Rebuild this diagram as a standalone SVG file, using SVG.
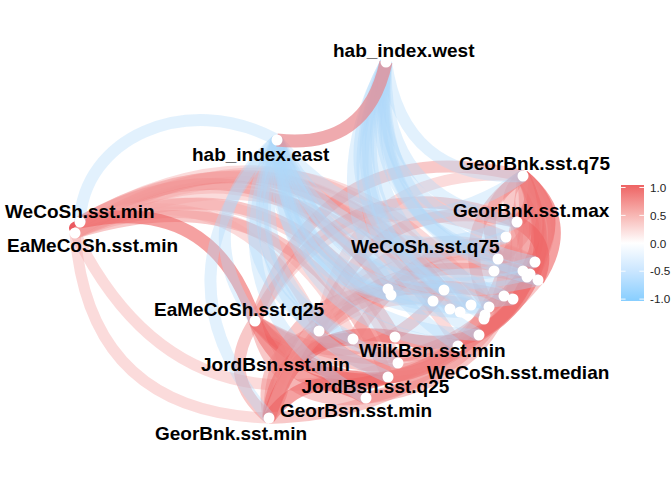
<svg xmlns="http://www.w3.org/2000/svg" width="672" height="480" viewBox="0 0 672 480">
<defs>
<style>
.e{fill:none;stroke-linecap:butt}
.b{stroke:#b0d8fa;stroke-opacity:.36;stroke-width:12}
.r1{stroke:#ee6363;stroke-opacity:.6;stroke-width:13}
.r2{stroke:#f08585;stroke-opacity:.45;stroke-width:12}
.r3{stroke:#f6a5a5;stroke-opacity:.4;stroke-width:11}
.hab{stroke:#e8868c;stroke-opacity:.7;stroke-width:13}
.fg{stroke:#e8474f;stroke-opacity:.9;stroke-width:5}
.n{fill:#fff}
.t{font-family:"Liberation Sans",Arial,sans-serif;font-weight:bold;font-size:19px;fill:#000}
.lt{font-family:"Liberation Sans",Arial,sans-serif;font-size:11.7px;fill:#222}
</style>
<linearGradient id="cbar" x1="0" y1="0" x2="0" y2="1">
<stop offset="0" stop-color="#ee6363"/>
<stop offset="0.25" stop-color="#f7b3b0"/>
<stop offset="0.5" stop-color="#ffffff"/>
<stop offset="0.75" stop-color="#c8e5ff"/>
<stop offset="1" stop-color="#87ceff"/>
</linearGradient>
</defs>
<rect width="672" height="480" fill="#fff"/>
<g id="connectors">
<path class="e r3" d="M75,233 Q257,120 388,289"/>
<path class="e r2" d="M75,233 Q285,96 444,290"/>
<path class="e r3" d="M75,233 Q297,102 450,309"/>
<path class="e r2" d="M75,233 Q282,141 395,337"/>
<path class="e r3" d="M75,233 Q317,117 458,346"/>
<path class="e r3" d="M75,233 Q262,161 353,339"/>
<path class="e r2" d="M75,233 Q296,164 388,377"/>
<path class="e r3" d="M75,233 Q315,84 489,307"/>
<path class="e r2" d="M80,222 Q292,103 433,301"/>
<path class="e r3" d="M80,222 Q313,88 471,305"/>
<path class="e r2" d="M80,222 Q268,119 391,295"/>
<path class="e r3" d="M80,222 Q302,149 398,363"/>
<path class="e r3" d="M80,222 Q249,169 319,331"/>
<path class="e r3" d="M80,222 Q311,96 460,312"/>
<path class="e r1" d="M80,222 Q212,193 255,321"/>
<path class="e r3" d="M269,418 Q89,413 75,233"/>
<path class="e r3" d="M398,363 Q178,443 75,233"/>
<path class="e fg" d="M75,233 Q66,226 80,222"/>
<path class="e r2" d="M269,418 Q218,376 255,321"/>
<path class="e r2" d="M255,321 Q306,363 269,418"/>
<path class="e r1" d="M458,346 Q345,425 255,321"/>
<path class="e r2" d="M444,290 Q363,391 255,321"/>
<path class="e r1" d="M479,335 Q361,429 255,321"/>
<path class="e r2" d="M538,280 Q415,428 255,321"/>
<path class="e r2" d="M535,262 Q422,418 255,321"/>
<path class="e r1" d="M388,377 Q296,409 255,321"/>
<path class="e r2" d="M366,398 Q276,409 255,321"/>
<path class="e r2" d="M255,321 Q324,128 523,176"/>
<path class="e r2" d="M255,321 Q341,154 517,222"/>
<path class="e r3" d="M319,331 Q351,162 523,176"/>
<path class="e r2" d="M319,331 Q369,187 517,222"/>
<path class="e r3" d="M255,321 Q343,166 506,237"/>
<path class="e r2" d="M269,418 Q255,352 319,331"/>
<path class="e r1" d="M269,418 Q275,341 353,339"/>
<path class="e r2" d="M269,418 Q270,300 388,289"/>
<path class="e r2" d="M269,418 Q299,275 444,290"/>
<path class="e r3" d="M269,418 Q319,271 471,305"/>
<path class="e r1" d="M269,418 Q296,321 395,337"/>
<path class="e r2" d="M269,418 Q332,251 504,296"/>
<path class="e r3" d="M269,418 Q332,220 535,262"/>
<path class="e r2" d="M269,418 Q341,228 538,280"/>
<path class="e r1" d="M269,418 Q309,364 366,398"/>
<path class="e r2" d="M388,289 Q459,217 538,280"/>
<path class="e r3" d="M391,295 Q448,214 535,262"/>
<path class="e r2" d="M353,339 Q419,226 538,280"/>
<path class="e r3" d="M319,331 Q396,199 535,262"/>
<path class="e r1" d="M523,176 Q577,221 538,280"/>
<path class="e r1" d="M523,176 Q568,214 535,262"/>
<path class="e r2" d="M523,176 Q571,222 530,274"/>
<path class="e r1" d="M523,176 Q541,202 517,222"/>
<path class="e r2" d="M517,222 Q499,196 523,176"/>
<path class="e r1" d="M523,176 Q573,275 479,335"/>
<path class="e r2" d="M523,176 Q567,290 458,346"/>
<path class="e r2" d="M523,176 Q544,358 366,398"/>
<path class="e r1" d="M523,176 Q565,257 489,307"/>
<path class="e r2" d="M523,176 Q573,242 513,299"/>
<path class="e r2" d="M523,176 Q548,229 498,259"/>
<path class="e r1" d="M517,222 Q554,242 538,280"/>
<path class="e r2" d="M517,222 Q549,296 479,335"/>
<path class="e r2" d="M517,222 Q521,378 366,398"/>
<path class="e r2" d="M506,237 Q510,360 388,377"/>
<path class="e r2" d="M523,176 Q505,411 269,418"/>
<path class="e r1" d="M535,262 Q499,363 395,337"/>
<path class="e r2" d="M489,307 Q435,384 353,339"/>
<path class="e r2" d="M458,346 Q382,401 319,331"/>
<path class="e r2" d="M498,259 Q473,206 523,176"/>
<path class="e r2" d="M489,307 Q447,226 523,176"/>
<path class="e b" d="M523,176 Q403,181 386,62"/>
<path class="e b" d="M517,222 Q380,201 386,62"/>
<path class="e b" d="M506,237 Q367,204 386,62"/>
<path class="e b" d="M535,262 Q371,229 386,62"/>
<path class="e b" d="M538,280 Q364,239 386,62"/>
<path class="e b" d="M504,296 Q340,232 386,62"/>
<path class="e b" d="M489,307 Q328,231 386,62"/>
<path class="e b" d="M471,305 Q319,222 386,62"/>
<path class="e b" d="M444,290 Q312,202 386,62"/>
<path class="e b" d="M479,335 Q310,240 386,62"/>
<path class="e b" d="M458,346 Q294,236 386,62"/>
<path class="e b" d="M485,315 Q322,233 386,62"/>
<path class="e b" d="M523,271 Q360,228 386,62"/>
<path class="e b" d="M498,259 Q353,211 386,62"/>
<path class="e b" d="M523,176 Q384,269 277,140"/>
<path class="e b" d="M517,222 Q360,289 277,140"/>
<path class="e b" d="M506,237 Q348,292 277,140"/>
<path class="e b" d="M535,262 Q351,317 277,140"/>
<path class="e b" d="M538,280 Q345,327 277,140"/>
<path class="e b" d="M513,299 Q323,326 277,140"/>
<path class="e b" d="M489,307 Q308,319 277,140"/>
<path class="e b" d="M460,312 Q291,308 277,140"/>
<path class="e b" d="M433,301 Q283,291 277,140"/>
<path class="e b" d="M391,295 Q264,269 277,140"/>
<path class="e b" d="M479,335 Q290,328 277,140"/>
<path class="e b" d="M458,346 Q275,324 277,140"/>
<path class="e b" d="M353,339 Q225,274 277,140"/>
<path class="e b" d="M388,377 Q226,308 277,140"/>
<path class="e b" d="M366,398 Q205,309 277,140"/>
<path class="e b" d="M444,290 Q293,290 277,140"/>
<path class="e b" d="M530,274 Q343,321 277,140"/>
<path class="e b" d="M398,363 Q237,306 277,140"/>
<path class="e b" d="M255,321 Q185,221 277,140"/>
<path class="e b" d="M269,418 Q148,275 277,140"/>
<path class="e b" d="M319,331 Q212,254 277,140"/>
<path class="e b" d="M80,222 C82,140 185,90 277,140"/>
<path class="e hab" d="M386,62 Q367,150 277,140"/>
</g>
<g id="n-J"><circle class="n" cx="498" cy="259" r="5.5"/></g>
<g id="n-K"><circle class="n" cx="535" cy="262" r="5.5"/></g>
<g id="n-L"><circle class="n" cx="494" cy="271" r="5.5"/></g>
<g id="n-M"><circle class="n" cx="523" cy="271" r="5.5"/></g>
<g id="n-N"><circle class="n" cx="530" cy="274" r="5.5"/></g>
<g id="n-O"><circle class="n" cx="527" cy="277" r="5.5"/></g>
<g id="n-P"><circle class="n" cx="538" cy="280" r="5.5"/></g>
<g id="n-Q"><circle class="n" cx="388" cy="289" r="5.5"/></g>
<g id="n-R"><circle class="n" cx="391" cy="295" r="5.5"/></g>
<g id="n-S"><circle class="n" cx="444" cy="290" r="5.5"/></g>
<g id="n-T"><circle class="n" cx="433" cy="301" r="5.5"/></g>
<g id="n-U"><circle class="n" cx="450" cy="309" r="5.5"/></g>
<g id="n-V"><circle class="n" cx="460" cy="312" r="5.5"/></g>
<g id="n-W"><circle class="n" cx="471" cy="305" r="5.5"/></g>
<g id="n-X"><circle class="n" cx="489" cy="307" r="5.5"/></g>
<g id="n-Y"><circle class="n" cx="485" cy="315" r="5.5"/></g>
<g id="n-Z"><circle class="n" cx="484" cy="319" r="5.5"/></g>
<g id="n-AA"><circle class="n" cx="504" cy="296" r="5.5"/></g>
<g id="n-AB"><circle class="n" cx="513" cy="299" r="5.5"/></g>
<g id="n-AD"><circle class="n" cx="353" cy="339" r="5.5"/></g>
<g id="n-AF"><circle class="n" cx="479" cy="335" r="5.5"/></g>
<g id="n-AH"><circle class="n" cx="398" cy="363" r="5.5"/></g>
<g id="n-WeCoSh-sst-min"><circle class="n" cx="80" cy="222" r="5.5"/><text class="t" x="5" y="217.5">WeCoSh.sst.min</text></g>
<g id="n-EaMeCoSh-sst-min"><circle class="n" cx="75" cy="233" r="5.5"/><text class="t" x="7" y="252">EaMeCoSh.sst.min</text></g>
<g id="n-EaMeCoSh-sst-q25"><circle class="n" cx="255" cy="321" r="5.5"/><text class="t" x="154" y="316">EaMeCoSh.sst.q25</text></g>
<g id="n-GeorBnk-sst-min"><circle class="n" cx="269" cy="418" r="5.5"/><text class="t" x="155" y="440">GeorBnk.sst.min</text></g>
<g id="n-hab_index-west"><circle class="n" cx="386" cy="62" r="5.5"/><text class="t" x="333" y="56.5">hab_index.west</text></g>
<g id="n-hab_index-east"><circle class="n" cx="277" cy="140" r="5.5"/><text class="t" x="192" y="161">hab_index.east</text></g>
<g id="n-GeorBnk-sst-q75"><circle class="n" cx="523" cy="176" r="5.5"/><text class="t" x="459" y="170">GeorBnk.sst.q75</text></g>
<g id="n-GeorBnk-sst-max"><circle class="n" cx="517" cy="222" r="5.5"/><text class="t" x="453" y="216.7">GeorBnk.sst.max</text></g>
<g id="n-WeCoSh-sst-q75"><circle class="n" cx="506" cy="237" r="5.5"/><text class="t" x="351" y="252.7">WeCoSh.sst.q75</text></g>
<g id="n-JordBsn-sst-min"><circle class="n" cx="319" cy="331" r="5.5"/><text class="t" x="201" y="371">JordBsn.sst.min</text></g>
<g id="n-GeorBsn-sst-min"><circle class="n" cx="366" cy="398" r="5.5"/><text class="t" x="280" y="417">GeorBsn.sst.min</text></g>
<g id="n-JordBsn-sst-q25"><circle class="n" cx="388" cy="377" r="5.5"/><text class="t" x="301.5" y="393.3">JordBsn.sst.q25</text></g>
<g id="n-WeCoSh-sst-median"><circle class="n" cx="458" cy="346" r="5.5"/><text class="t" x="427" y="379.3">WeCoSh.sst.median</text></g>
<g id="n-WilkBsn-sst-min"><circle class="n" cx="395" cy="337" r="5.5"/><text class="t" x="359" y="356.7">WilkBsn.sst.min</text></g>
<g id="legend">
<rect x="621" y="185" width="23" height="116" fill="url(#cbar)"/>
<g stroke="#fff" stroke-width="1" stroke-opacity=".9">
<line x1="621" y1="187.5" x2="625.6" y2="187.5"/><line x1="639.4" y1="187.5" x2="644" y2="187.5"/>
<line x1="621" y1="215.4" x2="625.6" y2="215.4"/><line x1="639.4" y1="215.4" x2="644" y2="215.4"/>
<line x1="621" y1="243.3" x2="625.6" y2="243.3"/><line x1="639.4" y1="243.3" x2="644" y2="243.3"/>
<line x1="621" y1="271.2" x2="625.6" y2="271.2"/><line x1="639.4" y1="271.2" x2="644" y2="271.2"/>
<line x1="621" y1="299.1" x2="625.6" y2="299.1"/><line x1="639.4" y1="299.1" x2="644" y2="299.1"/>
</g>
<text class="lt" x="650" y="191.7">1.0</text>
<text class="lt" x="650" y="219.6">0.5</text>
<text class="lt" x="650" y="247.5">0.0</text>
<text class="lt" x="650" y="275.4">-0.5</text>
<text class="lt" x="650" y="303.3">-1.0</text>
</g>
</svg>
